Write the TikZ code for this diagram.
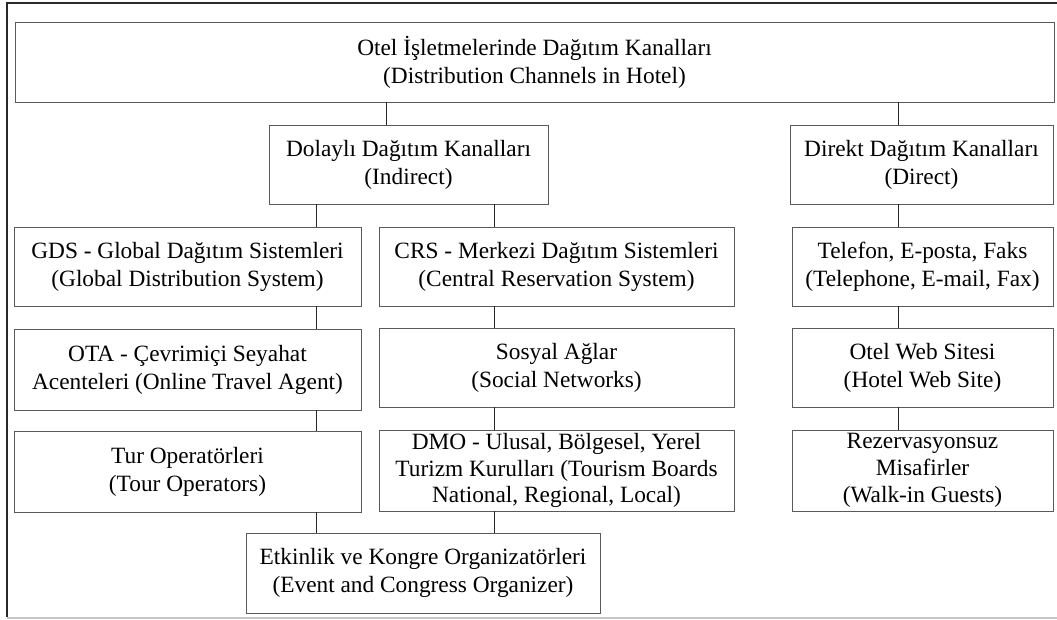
\documentclass[tikz,border=0pt]{standalone}
\usepackage{fontspec}
\setmainfont{Liberation Serif}
\usetikzlibrary{positioning, calc}
\definecolor{boxline}{RGB}{90,90,90}
\definecolor{frameline}{RGB}{40,40,40}

\begin{document}
\begin{tikzpicture}[
        x=0.75pt, y=-0.75pt,
        box/.style={rectangle, draw=boxline, line width=0.6pt, inner sep=0pt, align=center,
                    font=\fontsize{17.5}{21}\selectfont, minimum height=79*0.75pt},
        tight/.style={font=\fontsize{17.5}{20}\selectfont},
        link/.style={draw=frameline, line width=0.6pt}
    ]
        \useasboundingbox (0,0) rectangle (1057,619);

        % Outer frame
        \draw[frameline, line width=1.4pt] (7,617) -- (7,3) -- (1057,3);
        \draw[gray!45, line width=1pt] (7,618) -- (1057,618);

        % Columns of the connectors
        \coordinate (colI) at (386,0);
        \coordinate (colD) at (898,0);
        \coordinate (colL) at (316,0);
        \coordinate (colR) at (494,0);

        % Root
        \node[box, minimum width=1039*0.75pt, minimum height=80*0.75pt] (root) at (534.5,62)
            {Otel İşletmelerinde Dağıtım Kanalları\\(Distribution Channels in Hotel)};

        % Second level
        \node[box, minimum width=279*0.75pt] (ind) at (408.5,164.5) {Dolaylı Dağıtım Kanalları\\(Indirect)};
        \node[box, minimum width=263*0.75pt] (dir) at (921.5,164.5) {Direkt Dağıtım Kanalları\\(Direct)};

        % Indirect, left column
        \node[box, minimum width=347*0.75pt] (gds) at (187.5,266.5) {GDS - Global Dağıtım Sistemleri\\(Global Distribution System)};
        \node[box, minimum width=347*0.75pt, minimum height=81*0.75pt] (ota) at (187.5,369.5) {OTA - Çevrimiçi Seyahat\\Acenteleri (Online Travel Agent)};
        \node[box, minimum width=347*0.75pt, minimum height=81*0.75pt] (tur) at (187.5,471.5) {Tur Operatörleri\\(Tour Operators)};

        % Indirect, right column
        \node[box, minimum width=355*0.75pt] (crs) at (556.5,266.5) {CRS - Merkezi Dağıtım Sistemleri\\(Central Reservation System)};
        \node[box, minimum width=355*0.75pt] (sos) at (556.5,367.5) {Sosyal Ağlar\\(Social Networks)};
        \node[box, tight, minimum width=355*0.75pt, minimum height=81*0.75pt] (dmo) at (556.5,470.5) {DMO - Ulusal, Bölgesel, Yerel\\Turizm Kurulları (Tourism Boards\\National, Regional, Local)};

        % Bottom
        \node[box, minimum width=354*0.75pt, minimum height=80*0.75pt] (etk) at (423,573) {Etkinlik ve Kongre Organizatörleri\\(Event and Congress Organizer)};

        % Direct column
        \node[box, minimum width=261*0.75pt] (tel) at (922.5,266.5) {Telefon, E-posta, Faks\\(Telephone, E-mail, Fax)};
        \node[box, minimum width=261*0.75pt] (web) at (922.5,367.5) {Otel Web Sitesi\\(Hotel Web Site)};
        \node[box, tight, minimum width=261*0.75pt, minimum height=81*0.75pt] (rez) at (922.5,470.5) {Rezervasyonsuz\\Misafirler\\(Walk-in Guests)};

        % Connectors
        \draw[link] (root.south -| colI) -- (ind.north -| colI);
        \draw[link] (root.south -| colD) -- (dir.north -| colD);
        \draw[link] (ind.south -| colL) -- (gds.north -| colL);
        \draw[link] (ind.south -| colR) -- (crs.north -| colR);
        \draw[link] (gds.south -| colL) -- (ota.north -| colL);
        \draw[link] (ota.south -| colL) -- (tur.north -| colL);
        \draw[link] (tur.south -| colL) -- (etk.north -| colL);
        \draw[link] (crs.south -| colR) -- (sos.north -| colR);
        \draw[link] (sos.south -| colR) -- (dmo.north -| colR);
        \draw[link] (dmo.south -| colR) -- (etk.north -| colR);
        \draw[link] (dir.south -| colD) -- (tel.north -| colD);
        \draw[link] (tel.south -| colD) -- (web.north -| colD);
        \draw[link] (web.south -| colD) -- (rez.north -| colD);

    \end{tikzpicture}
\end{document}
